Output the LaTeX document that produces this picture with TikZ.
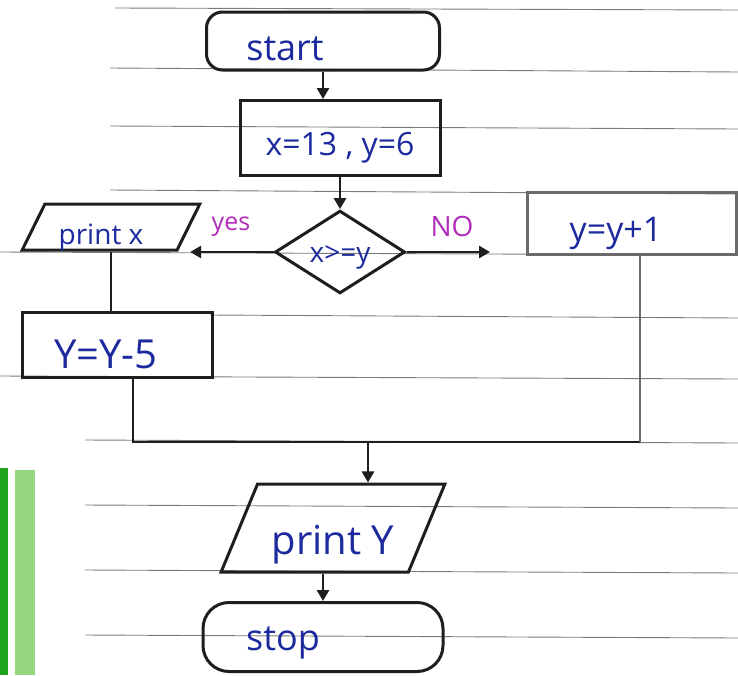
\documentclass[tikz,border=0pt]{standalone}
\usepackage{fontspec}
\setmainfont{Open Sans}
\usetikzlibrary{shapes.geometric,arrows.meta}
\definecolor{ink}{HTML}{1E1E1E}
\definecolor{pencil}{HTML}{6A6A6A}
\definecolor{pen}{HTML}{1C2A9E}
\definecolor{mag}{HTML}{B02EB8}
\definecolor{rule}{HTML}{7A7A7A}
\definecolor{greenA}{HTML}{22A31E}
\definecolor{greenB}{HTML}{94D77E}
\newcommand{\hand}[1]{\fontsize{#1}{#1}\selectfont}
\begin{document}
\begin{tikzpicture}[x=1pt,y=-1pt,
  stroke/.style={draw=ink, line width=3pt},
  % text sits on a baseline #1 below the node centre
  base/.style={text height=2*#1, text depth=0pt, inner ysep=1pt},
  terminal/.style={stroke, rounded corners=16pt, text=pen, font=\hand{36}},
  procbox/.style={stroke, rectangle, text=pen, font=\hand{32}},
  iobox/.style={stroke, trapezium, trapezium stretches=true, text=pen},
  decision/.style={stroke, diamond, text=pen, font=\hand{28}, inner sep=0pt},
  flow/.style={draw=ink, line width=2.6pt},
  arr/.style={flow, -{Triangle[length=11pt,width=12pt]}},
  branch/.style={text=mag},
  ruling/.style={draw=rule, line width=0.9pt}]
\useasboundingbox (0,0) rectangle (738,675);
\fill[white] (0,0) rectangle (738,675);

% ruled paper
\foreach \xa/\ya/\yb in {115/8/10, 110/68/72, 110/126/129, 110/190/194, 0/252/255,
  210/315/318, 0/376/379, 85/440/443, 85/505/508, 85/570/573, 85/635/638}
  \draw[ruling] (\xa,\ya) -- (738,\yb);

% green edge of the next sheet
\fill[greenA] (0,468) rectangle (8,675);
\fill[greenB] (15,470) rectangle (35,675);

% nodes
\node[terminal, base=19pt, minimum width=233pt, minimum height=58pt] (start) at (323,41) {start\kern76pt};
\node[procbox, base=17pt, minimum width=200pt, minimum height=75pt] (init) at (340,138) {x=13 , y=6};
\node[decision, base=10pt, minimum width=130pt, minimum height=80pt] (dia) at (340,252) {x>=y};
\node[iobox, base=17pt, trapezium left angle=62, trapezium right angle=118,
      minimum width=178pt, minimum height=46pt, font=\hand{28}] (printx) at (111,227) {print x\kern20pt};
\node[procbox, base=23pt, minimum width=190pt, minimum height=65pt, font=\hand{40}] (ydec) at (117,345) {Y=Y-5\kern22pt};
\node[procbox, base=18pt, draw=pencil, minimum width=209pt, minimum height=62pt, font=\hand{34}] (yinc) at (632,223) {y=y+1\kern32pt};
\node[iobox, base=26pt, trapezium left angle=60, trapezium right angle=120,
      minimum width=224pt, minimum height=88pt, font=\hand{40}] (printy) at (333,528) {print Y};
\node[terminal, base=13pt, rounded corners=26pt, minimum width=240pt, minimum height=69pt] (stop) at (323,637) {stop\kern80pt};

% branch labels
\node[branch, font=\hand{25}] (yes) at (231,227) {yes};
\node[branch, font=\hand{28}] (no) at (452,226) {NO};

% junction points
\coordinate (noend) at (490,252);
\coordinate (jl) at (133,442);
\coordinate (jr) at (640,442);
\coordinate (jm) at (368,442);

% connectors
\draw[arr] (start.south) -- (start.south |- init.north);
\draw[arr] (init.south) -- (dia.north);
\draw[arr] (dia.west) -- (printx.east |- dia.west);
\draw[arr] (dia.east) -- (noend);
\draw[flow] (printx.south) -- (printx.south |- ydec.north);
\draw[flow] (ydec.south -| jl) -- (jl) -- (jr);
\draw[flow, draw=pencil] (jr) -- (yinc.south -| jr);
\draw[arr] (jm) -- (jm |- printy.north);
\draw[arr] (printy.south -| stop.north) -- (stop.north);
\end{tikzpicture}
\end{document}
